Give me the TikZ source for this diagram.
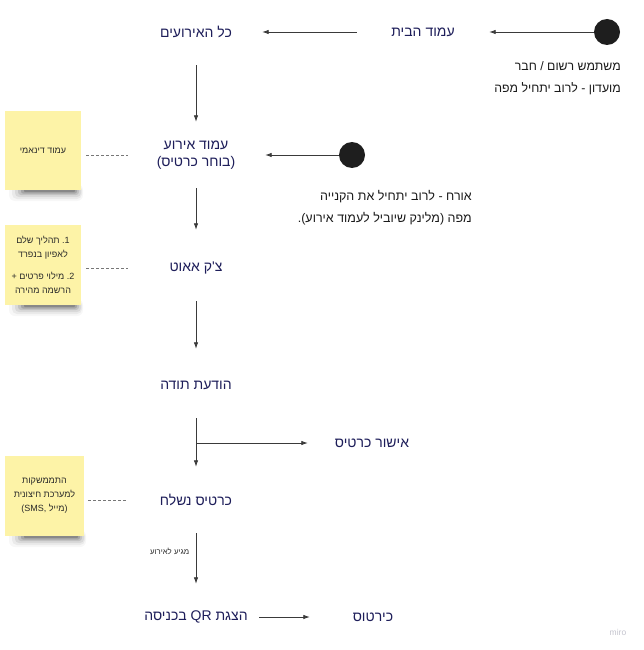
\documentclass[tikz,border=0pt]{standalone}
\usepackage{fontspec}
\setmainfont{Liberation Sans}
\newfontfamily\hebfont[Script=Hebrew]{Liberation Sans}
\TeXXeTstate=1
\usetikzlibrary{arrows.meta}
\newcommand{\hebl}[1]{{\hebfont\beginR #1\endR}}
\definecolor{navy}{HTML}{1E1E5A}
\definecolor{arrowc}{HTML}{3A3A3A}
\definecolor{dotc}{HTML}{1E1E1E}
\definecolor{annotc}{HTML}{1A1A1A}
\definecolor{stickyc}{HTML}{FDF3A7}
\definecolor{stickytext}{HTML}{2A2A2A}
\definecolor{linkc}{HTML}{777777}
\definecolor{miroc}{HTML}{C4C4CE}
\begin{document}
\begin{tikzpicture}[x=1pt,y=-1pt,
  main/.style={text=navy, font=\fontsize{14}{17.5}\selectfont, minimum width=132pt, minimum height=66pt, align=center, inner sep=0pt},
  conn/.style={draw=arrowc, line width=0.8pt, -{Latex[length=6.5pt,width=4.5pt]}},
  startdot/.style={circle, fill=dotc, minimum size=26pt, inner sep=0pt},
  sticky/.style={fill=stickyc, inner sep=2pt, align=center, text=stickytext, font=\fontsize{9}{14}\selectfont},
  link/.style={draw=linkc, line width=0.6pt, dash pattern=on 2.5pt off 2.5pt},
  annot/.style={text=annotc, font=\fontsize{12.3}{22}\selectfont, align=right, inner sep=0pt}]
\useasboundingbox[fill=white] (0,0) rectangle (643,650);

% shadows of the sticky notes
\foreach \l/\r/\b in {5/81/190, 5/81/305, 5/84/536}{
  \fill[black, opacity=0.03, rounded corners=6pt] (\l+4,\b-6) rectangle (\r+2,\b+11);
  \fill[black, opacity=0.05, rounded corners=5pt] (\l+7,\b-5) rectangle (\r+1,\b+9);
  \fill[black, opacity=0.07, rounded corners=4pt] (\l+10,\b-4) rectangle (\r,\b+7);
  \fill[black, opacity=0.10, rounded corners=3pt] (\l+13,\b-3) rectangle (\r-2,\b+5);
  \fill[black, opacity=0.14, rounded corners=2pt] (\l+16,\b-2) rectangle (\r-4,\b+3.5);
  \fill[black, opacity=0.18, rounded corners=1pt] (\l+19,\b-1) rectangle (\r-6,\b+2);
}

% sticky notes
\node[sticky, minimum width=76pt, minimum height=79pt] (note1) at (43,150.5) {\hebl{עמוד דינאמי}};
\node[sticky, minimum width=76pt, minimum height=80pt] (note2) at (43,265) {\hebl{תהליך שלם} .1\\ \hebl{לאפיון בנפרד}\\[8pt] + \hebl{מילוי פרטים} .2\\ \hebl{הרשמה מהירה}};
\node[sticky, minimum width=79pt, minimum height=80pt] (note3) at (44.5,496) {\hebl{התממשקות}\\ \hebl{למערכת חיצונית}\\ (SMS, \hebl{מייל})};

% start dots
\node[startdot] (dot1) at (607,32) {};
\node[startdot] (dot2) at (352,155) {};

% main nodes
\node[main] (home) at (423,32) {\hebl{עמוד הבית}};
\node[main] (allev) at (196,32) {\hebl{כל האירועים}};
\node[main] (event) at (196,155) {\hebl{עמוד אירוע}\\ (\hebl{בוחר כרטיס})};
\node[main] (checkout) at (196,268) {\hebl{צ'ק אאוט}};
\node[main] (thanks) at (196,385) {\hebl{הודעת תודה}};
\node[main] (approve) at (372,443) {\hebl{אישור כרטיס}};
\node[main] (sent) at (196,500) {\hebl{כרטיס נשלח}};
\node[main] (qr) at (196,617) {\hebl{הצגת \beginL{\rmfamily QR}\endL{} בכניסה}};
\node[main] (tick) at (373,617) {\hebl{כירטוס}};

% annotations
\node[annot, anchor=north east] (member) at (621,61) {\hebl{משתמש רשום / חבר}\\ \hebl{מועדון - לרוב יתחיל מפה}};
\node[annot, anchor=north east, font=\fontsize{12.5}{22}\selectfont] (guest) at (472,190) {\hebl{אורח - לרוב יתחיל את הקנייה}\\ .(\hebl{מלינק שיוביל לעמוד אירוע}) \hebl{מפה}};

% connectors
\draw[conn] (dot1) -- (home);
\draw[conn] (home) -- (allev);
\draw[conn] (allev) -- (event);
\draw[conn, shorten >=3pt] (dot2) -- (event);
\draw[conn, shorten >=5pt] (event) -- (checkout);
\draw[conn, shorten >=3pt] (checkout) -- (thanks);
\draw[conn] (thanks) -- (sent);
\draw[conn, shorten >=-2pt] (thanks.south |- approve.west) -- (approve.west);
\draw[conn] (sent) -- (qr) node[pos=0.36, anchor=east, xshift=-3pt, text=stickytext, font=\fontsize{7.8}{9}\selectfont] (arrive) {\hebl{מגיע לאירוע}};
\draw[conn, shorten <=-3pt, shorten >=-3pt] (qr) -- (tick);

% dashed links from notes
\draw[link, shorten <=5pt, shorten >=2pt] (note1.east |- event) -- (event.west);
\draw[link, shorten <=5pt, shorten >=2pt] (note2.east |- checkout) -- (checkout.west);
\draw[link, shorten <=4pt, shorten >=2pt] (note3.east |- sent) -- (sent.west);

% watermark
\node[text=miroc, font=\fontsize{8.5}{9}\selectfont] (miro) at (618,632) {miro};
\end{tikzpicture}
\end{document}
